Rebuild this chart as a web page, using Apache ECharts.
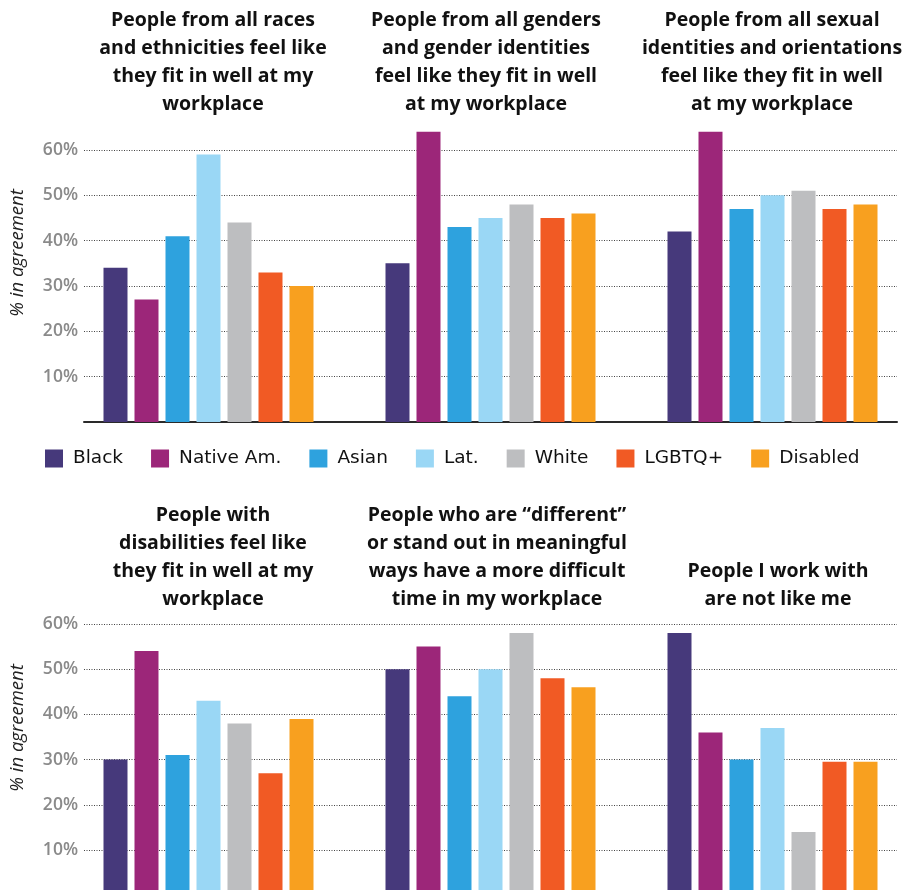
<!DOCTYPE html>
<html>
<head>
<meta charset="utf-8">
<script src="https://cdn.jsdelivr.net/npm/echarts@6/dist/echarts.min.js"></script>
<style>
html,body{margin:0;padding:0;background:#fff;overflow:hidden;}
#chart{width:924px;height:910px;}
</style>
</head>
<body>
<div id="chart"></div>
<script>
// ---- data ----
const groups = ['G1', 'G2', 'G3'];
const seriesNames = ['Black', 'Native Am.', 'Asian', 'Lat.', 'White', 'LGBTQ+', 'Disabled'];
// values: first three = top row groups, last three = bottom row groups
const black    = [34, 35, 42, 30, 50, 58];
const nativeAm = [27, 64, 64, 54, 55, 36];
const asian    = [41, 43, 47, 31, 44, 30];
const latinx   = [59, 45, 50, 43, 50, 37];
const white    = [44, 48, 51, 38, 58, 14];
const lgbtq    = [33, 45, 47, 27, 48, 29.5];
const disabled = [30, 46, 48, 39, 46, 29.5];
const topTitles = [
  'People from all races\nand ethnicities feel like\nthey fit in well at my\nworkplace',
  'People from all genders\nand gender identities\nfeel like they fit in well\nat my workplace',
  'People from all sexual\nidentities and orientations\nfeel like they fit in well\nat my workplace'
];
const bottomTitles = [
  'People with\ndisabilities feel like\nthey fit in well at my\nworkplace',
  'People who are \u201cdifferent\u201d\nor stand out in meaningful\nways have a more difficult\ntime in my workplace',
  'People I work with\nare not like me'
];
const yAxisName = '% in agreement';
const colors = ['#46397B', '#9C2679', '#2EA2DE', '#9AD7F5', '#BDBEC0', '#F15A24', '#F8A01F'];

// ---- layout ----
const allValues = [black, nativeAm, asian, latinx, white, lgbtq, disabled];
const top0 = 422, unitTop = 272 / 60;
const base1 = 895.2, unitBot = 271.2 / 60;
const barMax = 70;

const chart = echarts.init(document.getElementById('chart'));

function axisGrid(top, height) {
  return { left: 84, right: 27, top: top, height: height };
}
function barGrid(base, unit) {
  return { left: 67.5, width: 846, top: base - barMax * unit, height: barMax * unit };
}

const grids = [
  axisGrid(150, 272), barGrid(top0, unitTop),
  axisGrid(624, 271.2), barGrid(base1, unitBot)
];

const xAxes = [], yAxes = [];
grids.forEach((g, i) => {
  const isAxis = i % 2 === 0;
  xAxes.push({
    gridIndex: i, type: 'category', data: groups,
    axisLine: { show: isAxis, lineStyle: { color: '#2a2a2a', width: 2 } },
    axisTick: { show: false }, axisLabel: { show: false }, splitLine: { show: false }
  });
  yAxes.push(isAxis ? {
    gridIndex: i, type: 'value', min: 0, max: 60, interval: 10,
    axisLine: { show: false }, axisTick: { show: false },
    axisLabel: {
      margin: 6, color: '#8a8a8a', fontSize: 17.5, fontWeight: 600,
      fontFamily: 'Open Sans',
      formatter: v => v === 0 ? '' : v + '%'
    },
    splitLine: { show: true, lineStyle: { color: '#444', type: [1, 1.5], width: 1 } }
  } : {
    gridIndex: i, type: 'value', min: 0, max: barMax, show: false, splitLine: { show: false }
  });
});

const series = [];
seriesNames.forEach((name, s) => {
  series.push({
    name: name, type: 'bar', xAxisIndex: 1, yAxisIndex: 1,
    data: allValues[s].slice(0, 3), barWidth: 24, barGap: '29.17%',
    itemStyle: { color: colors[s] }, z: 3
  });
  series.push({
    name: name, type: 'bar', xAxisIndex: 3, yAxisIndex: 3,
    data: allValues[s].slice(3, 6), barWidth: 24, barGap: '29.17%',
    itemStyle: { color: colors[s] }, z: 3
  });
});

const titleStyle = { fontSize: 19.5, fontWeight: 'bold', lineHeight: 28, color: '#111', fontFamily: 'Open Sans' };
const titles = [];
const topX = [213, 486, 772], botX = [213, 497, 778];
topTitles.forEach((t, i) => titles.push({ text: t, left: topX[i], top: 6, textAlign: 'center', padding: 0, textStyle: titleStyle }));
bottomTitles.forEach((t, i) => titles.push({ text: t, left: botX[i], top: i === 2 ? 557 : 501, textAlign: 'center', padding: 0, textStyle: titleStyle }));

chart.setOption({
  animation: false,
  title: titles,
  grid: grids,
  xAxis: xAxes,
  yAxis: yAxes,
  legend: {
    data: seriesNames, left: 45, top: 449, itemWidth: 18, itemHeight: 18, itemGap: 28,
    icon: 'rect', padding: 0,
    textStyle: { fontSize: 18.5, color: '#111', fontFamily: 'DejaVu Sans', padding: [0, 0, 0, 5] }
  },
  graphic: [
    { type: 'text', x: 18, y: 253, rotation: Math.PI / 2,
      style: { text: yAxisName, font: 'italic 18.5px "Open Sans"', fill: '#222', textAlign: 'center', textVerticalAlign: 'middle' } },
    { type: 'text', x: 18, y: 728, rotation: Math.PI / 2,
      style: { text: yAxisName, font: 'italic 18.5px "Open Sans"', fill: '#222', textAlign: 'center', textVerticalAlign: 'middle' } }
  ],
  series: series
});
</script>
</body>
</html>
